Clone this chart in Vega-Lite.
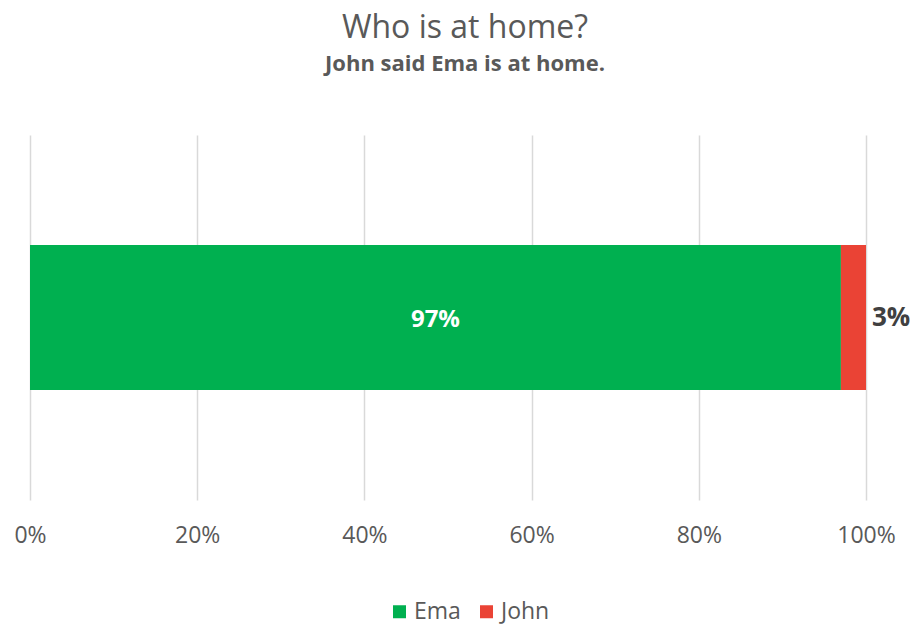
{
  "$schema": "https://vega.github.io/schema/vega-lite/v6.json",
  "width": 836,
  "height": 365,
  "autosize": {"type": "none"},
  "padding": {"left": 30, "top": 135, "right": 47, "bottom": 125},
  "background": "white",
  "config": {
    "font": "Open Sans",
    "view": {"stroke": null}
  },
  "title": {
    "text": "Who is at home?",
    "subtitle": "John said Ema is at home.",
    "anchor": "middle",
    "dx": 17,
    "offset": 59,
    "fontSize": 32,
    "fontWeight": "normal",
    "color": "#595959",
    "subtitleFontSize": 22,
    "subtitleFontWeight": "bold",
    "subtitleColor": "#595959",
    "subtitlePadding": 9,
    "font": "Open Sans",
    "subtitleFont": "Open Sans"
  },
  "data": {
    "values": [
      {"q": "r", "name": "Ema", "value": 0.97},
      {"q": "r", "name": "John", "value": 0.03}
    ]
  },
  "transform": [
    {"stack": "value", "groupby": ["q"], "sort": [{"field": "name", "order": "ascending"}], "as": ["v0", "v1"]},
    {"calculate": "(datum.v0 + datum.v1) / 2", "as": "vmid"}
  ],
  "encoding": {
    "y": {"field": "q", "type": "nominal", "axis": null}
  },
  "layer": [
    {
      "mark": {"type": "bar", "size": 145},
      "encoding": {
        "x": {
          "field": "v0",
          "type": "quantitative",
          "scale": {"domain": [0, 1], "nice": false},
          "axis": {
            "values": [0, 0.2, 0.4, 0.6, 0.8, 1],
            "format": ".0%",
            "title": null,
            "domain": false,
            "ticks": false,
            "grid": true,
            "gridColor": "#d9d9d9",
            "gridWidth": 1.5,
            "labelFontSize": 23,
            "labelColor": "#595959",
            "labelPadding": 24,
            "labelFlush": false,
            "labelFont": "Open Sans"
          }
        },
        "x2": {"field": "v1"},
        "color": {
          "field": "name",
          "type": "nominal",
          "scale": {"domain": ["Ema", "John"], "range": ["#00B050", "#EA4335"]},
          "legend": {
            "title": null,
            "orient": "none",
            "direction": "horizontal",
            "legendX": 358,
            "legendY": 465,
            "symbolType": "square",
            "symbolSize": 169,
            "symbolStrokeWidth": 0,
            "labelFontSize": 23,
            "labelColor": "#595959",
            "labelFont": "Open Sans",
            "columnPadding": 14,
            "labelOffset": 3
          }
        }
      }
    },
    {
      "transform": [{"filter": "datum.name == 'Ema'"}],
      "mark": {"type": "text", "color": "white", "fontWeight": "bold", "fontSize": 24, "align": "center", "baseline": "middle", "font": "Open Sans", "dy": 2},
      "encoding": {
        "x": {"field": "vmid", "type": "quantitative"},
        "text": {"field": "value", "type": "quantitative", "format": ".0%"}
      }
    },
    {
      "transform": [{"filter": "datum.name == 'John'"}],
      "mark": {"type": "text", "color": "#404040", "fontWeight": "bold", "fontSize": 26, "align": "left", "baseline": "middle", "dx": 6, "font": "Open Sans"},
      "encoding": {
        "x": {"field": "v1", "type": "quantitative"},
        "text": {"field": "value", "type": "quantitative", "format": ".0%"}
      }
    }
  ]
}
